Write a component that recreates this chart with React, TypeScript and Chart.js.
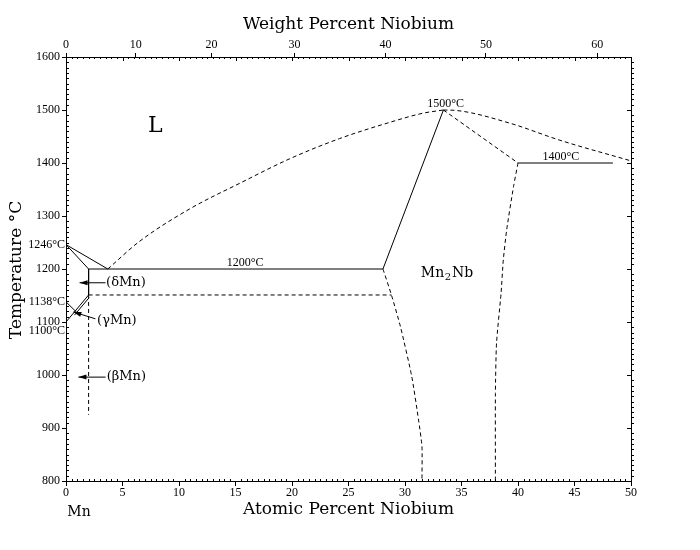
import React, { useEffect, useRef } from 'react';
import { Chart, registerables } from 'chart.js';

Chart.register(...registerables);

// Molar masses used to place the weight-percent axis
const MASS_MN = 54.938;
const MASS_NB = 92.906;

// Axis ticks
const atomicTicks = [0, 5, 10, 15, 20, 25, 30, 35, 40, 45, 50];
const weightTicks = [0, 10, 20, 30, 40, 50, 60];
const tempTicks = [800, 900, 1000, 1100, 1200, 1300, 1400, 1500, 1600];

// Phase boundaries: [at.% Nb, °C]
const liquidusMn: [number, number][] = [[0, 1246], [3.7, 1200]];
const solidusMn: [number, number][] = [[0, 1246], [2.0, 1200]];
const liquidusLeft: [number, number][] = [
  [3.7, 1200], [6.5, 1252], [11.0, 1314], [15.4, 1362], [19.8, 1408],
  [24.2, 1446], [28.7, 1477], [31.6, 1494], [33.4, 1500],
];
const liquidusRight: [number, number][] = [
  [33.4, 1500], [34.6, 1499], [39.3, 1475], [43.7, 1443], [50.0, 1404],
];
const peritecticSlope: [number, number][] = [[33.4, 1500], [40.0, 1400]];
const peritectic1400: [number, number][] = [[40.0, 1400], [48.4, 1400]];
const eutectic1200: [number, number][] = [[2.0, 1200], [28.05, 1200]];
const lavesLeftUpper: [number, number][] = [[33.4, 1500], [28.05, 1200]];
const lavesLeftLower: [number, number][] = [
  [28.05, 1200], [28.8, 1151], [29.6, 1091], [30.6, 997], [31.2, 915],
  [31.5, 865], [31.5, 800],
];
const lavesRight: [number, number][] = [
  [40.0, 1400], [39.6, 1355], [39.0, 1274], [38.7, 1217], [38.5, 1154],
  [38.1, 1060], [38.0, 965], [38.0, 800],
];
const deltaSolvus: [number, number][] = [[2.0, 1200], [2.0, 1151]];
const eutectoid1150: [number, number][] = [[2.0, 1151], [28.8, 1151]];
const betaSolvus: [number, number][] = [[2.0, 1151], [2.0, 925]];
const gammaLowerA: [number, number][] = [[0, 1100], [2.0, 1151]];
const gammaLowerB: [number, number][] = [[0.75, 1113], [2.05, 1146]];
const gammaUpper: [number, number][] = [[0, 1138], [1.2, 1113]];

// Arrows pointing at the terminal Mn solid solutions: tail -> tip
const arrowDelta: [number, number][] = [[3.5, 1174], [1.2, 1174]];
const arrowGamma: [number, number][] = [[2.6, 1106], [0.65, 1119]];
const arrowBeta: [number, number][] = [[3.5, 996], [1.1, 996]];

function wtToAt(w: number) {
  const nb = w / MASS_NB;
  const mn = (100 - w) / MASS_MN;
  return (100 * nb) / (nb + mn);
}

const SERIF = '"DejaVu Serif", serif';
const SMALL = '"Liberation Serif", serif';

function lineSet(pts: [number, number][], dashed: boolean, mode: 'none' | 'mono' | 'soft' = 'none') {
  return {
    data: pts.map(([x, y]) => ({ x, y })),
    showLine: true,
    borderColor: '#000',
    borderWidth: 1,
    borderDash: dashed ? [4, 3] : [],
    pointRadius: 0,
    tension: mode === 'soft' ? 0.2 : mode === 'mono' ? 0.4 : 0,
    cubicInterpolationMode: mode === 'mono' ? 'monotone' : 'default',
    fill: false,
  };
}

const axisTicks = {
  id: 'axisTicks',
  afterDraw(chart: any) {
    const { ctx, chartArea: a, scales } = chart;
    const sx = scales.x;
    const sy = scales.y;
    ctx.save();
    ctx.strokeStyle = '#000';
    ctx.lineWidth = 1;
    ctx.beginPath();
    for (let i = 0; i <= 100; i++) {
      const v = i / 2;
      const px = Math.round(sx.getPixelForValue(v)) + 0.5;
      const major = i % 10 === 0;
      if (!major) {
        ctx.moveTo(px, a.bottom);
        ctx.lineTo(px, a.bottom - 2);
      }
      ctx.moveTo(px, a.top);
      ctx.lineTo(px, a.top + (major ? 4 : 2));
    }
    for (let t = 800; t <= 1600; t += 10) {
      const py = Math.round(sy.getPixelForValue(t)) + 0.5;
      if (t % 100 !== 0) {
        ctx.moveTo(a.left, py);
        ctx.lineTo(a.left + 3, py);
        ctx.moveTo(a.right, py);
        ctx.lineTo(a.right + 3, py);
      } else {
        ctx.moveTo(a.right, py);
        ctx.lineTo(a.right - 4, py);
      }
    }
    ctx.stroke();
    ctx.restore();
  },
};

const annotations = {
  id: 'annotations',
  afterDraw(chart: any) {
    const { ctx, scales, chartArea: a } = chart;
    const sx = scales.x;
    const sy = scales.y;
    const X = (v: number) => sx.getPixelForValue(v);
    const Y = (v: number) => sy.getPixelForValue(v);
    ctx.save();
    ctx.fillStyle = '#000';
    ctx.textBaseline = 'middle';

    const text = (s: string, x: number, y: number, font: string, align: CanvasTextAlign = 'center') => {
      ctx.font = font;
      ctx.textAlign = align;
      ctx.fillText(s, x, y);
    };
    const small = `12px ${SMALL}`;

    // Arrowheads
    for (const [[x0, y0], [x1, y1]] of [arrowDelta, arrowGamma, arrowBeta]) {
      const tx = X(x1), ty = Y(y1);
      const ang = Math.atan2(ty - Y(y0), tx - X(x0));
      const len = 8, half = 2.5;
      ctx.beginPath();
      ctx.moveTo(tx, ty);
      ctx.lineTo(tx - len * Math.cos(ang) + half * Math.sin(ang), ty - len * Math.sin(ang) - half * Math.cos(ang));
      ctx.lineTo(tx - len * Math.cos(ang) - half * Math.sin(ang), ty - len * Math.sin(ang) + half * Math.cos(ang));
      ctx.closePath();
      ctx.fill();
    }

    // Temperatures of invariant reactions
    text('1500°C', X(33.6), Y(1511), small);
    text('1400°C', X(43.8), Y(1411), small);
    text('1200°C', X(15.85), Y(1211), small);
    text('1246°C', a.left - 1, Y(1245), small, 'right');
    text('1138°C', a.left - 1, Y(1138), small, 'right');
    text('1100°C', a.left - 1, Y(1083), small, 'right');

    // Phase fields
    text('L', X(7.9), Y(1470), `22px ${SERIF}`);
    text('(δMn)', X(3.55), Y(1174), `13px ${SERIF}`, 'left');
    text('(γMn)', X(2.75), Y(1102), `13px ${SERIF}`, 'left');
    text('(βMn)', X(3.6), Y(996), `13px ${SERIF}`, 'left');

    // Mn2Nb with subscript
    ctx.font = `14px ${SERIF}`;
    ctx.textAlign = 'left';
    const mx = X(31.4), my = Y(1192);
    ctx.fillText('Mn', mx, my);
    const w1 = ctx.measureText('Mn').width;
    ctx.font = `10px ${SERIF}`;
    ctx.fillText('2', mx + w1 + 0.5, my + 4);
    const w2 = ctx.measureText('2').width;
    ctx.font = `14px ${SERIF}`;
    ctx.fillText('Nb', mx + w1 + w2 + 1.5, my);

    text('Mn', X(1.15), a.bottom + 31, `14px ${SERIF}`);

    // Axis titles
    const mid = (a.left + a.right) / 2;
    text('Atomic Percent Niobium', mid, a.bottom + 29, `17px ${SERIF}`);
    text('Weight Percent Niobium', mid, a.top - 32, `17px ${SERIF}`);
    ctx.save();
    ctx.translate(17, 270);
    ctx.rotate(-Math.PI / 2);
    text('Temperature °C', 0, 0, `17px ${SERIF}`);
    ctx.restore();

    ctx.restore();
  },
};

export default function App() {
  const ref = useRef<HTMLCanvasElement | null>(null);

  useEffect(() => {
    if (!ref.current) return;
    const tickFont = { family: SMALL, size: 12 };
    const chart = new Chart(ref.current, {
      type: 'scatter',
      data: {
        datasets: [
          lineSet(liquidusMn, false),
          lineSet(solidusMn, false),
          lineSet(liquidusLeft, true, 'mono'),
          lineSet(liquidusRight, true, 'mono'),
          lineSet(peritecticSlope, true),
          lineSet(peritectic1400, false),
          lineSet(eutectic1200, false),
          lineSet(lavesLeftUpper, false),
          lineSet(lavesLeftLower, true, 'soft'),
          lineSet(lavesRight, true, 'soft'),
          lineSet(deltaSolvus, false),
          lineSet(eutectoid1150, true),
          lineSet(betaSolvus, true),
          lineSet(gammaLowerA, false),
          lineSet(gammaLowerB, false),
          lineSet(gammaUpper, false),
          lineSet(arrowDelta, false),
          lineSet(arrowGamma, false),
          lineSet(arrowBeta, false),
        ] as any,
      },
      options: {
        animation: false,
        responsive: false,
        layout: { padding: 0 },
        plugins: { legend: { display: false }, tooltip: { enabled: false } },
        scales: {
          x: {
            type: 'linear',
            position: 'bottom',
            min: 0,
            max: 50,
            afterBuildTicks: (s: any) => {
              s.ticks = atomicTicks.map((v) => ({ value: v }));
            },
            afterFit: (s: any) => {
              s.height = 69;
            },
            ticks: {
              autoSkip: false,
              maxRotation: 0,
              color: '#000',
              font: tickFont,
              padding: 0,
              callback: (v: any) => String(v),
            },
            grid: { drawOnChartArea: false, tickLength: 5, color: '#000' },
            border: { color: '#000' },
          },
          x2: {
            type: 'linear',
            position: 'top',
            min: 0,
            max: 50,
            afterBuildTicks: (s: any) => {
              s.ticks = weightTicks.map((w) => ({ value: wtToAt(w) }));
            },
            afterFit: (s: any) => {
              s.height = 57;
            },
            ticks: {
              autoSkip: false,
              maxRotation: 0,
              color: '#000',
              font: tickFont,
              padding: 1,
              callback: (_v: any, i: number) => String(weightTicks[i]),
            },
            grid: { drawOnChartArea: false, tickLength: 4, color: '#000' },
            border: { color: '#000' },
          },
          y: {
            type: 'linear',
            position: 'left',
            min: 800,
            max: 1600,
            afterBuildTicks: (s: any) => {
              s.ticks = tempTicks.map((v) => ({ value: v }));
            },
            afterFit: (s: any) => {
              s.width = 66;
            },
            ticks: {
              autoSkip: false,
              color: '#000',
              font: tickFont,
              padding: 2,
              callback: (v: any) => String(v),
            },
            grid: { drawOnChartArea: false, tickLength: 4, color: '#000' },
            border: { color: '#000' },
          },
          y2: {
            type: 'linear',
            position: 'right',
            min: 800,
            max: 1600,
            afterFit: (s: any) => {
              s.width = 69;
            },
            ticks: { display: false },
            grid: { display: false },
            border: { display: true, color: '#000' },
          },
        },
      } as any,
      plugins: [axisTicks, annotations],
    });
    return () => chart.destroy();
  }, []);

  return (
    <div style={{ position: 'fixed', left: 0, top: 0, width: 700, height: 550, background: '#fff' }}>
      <canvas ref={ref} width={700} height={550} />
    </div>
  );
}
